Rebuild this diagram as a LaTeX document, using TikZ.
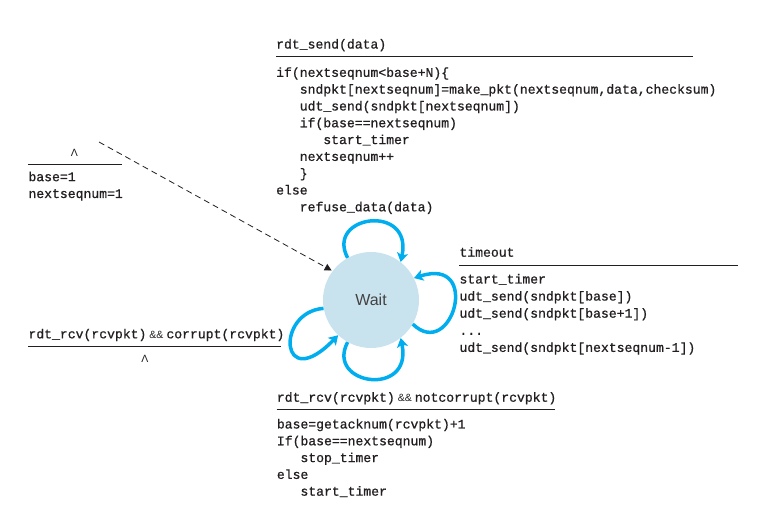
\documentclass[tikz,border=0pt]{standalone}
\usepackage{fontspec}
\setmainfont{Liberation Serif}
\setsansfont{Liberation Sans}
\setmonofont{Liberation Mono}[FakeBold=0.8]
\usetikzlibrary{arrows.meta}
\definecolor{statefill}{HTML}{C9E3EE}
\definecolor{loopcol}{HTML}{00AEEF}
\definecolor{ink}{HTML}{231F20}
\newcommand\ind{\hphantom{000}}
\newcommand\andand{\hspace{3pt}{\sffamily\fontsize{10.5}{12}\selectfont\&\&}\hspace{3pt}}
\begin{document}
\begin{tikzpicture}[x=1pt,y=-1pt,
  codebody/.style={anchor=north west, inner sep=0pt, align=left, text=ink,
    font=\ttfamily\fontsize{13.1}{16.8}\selectfont},
  codehead/.style={anchor=base west, inner sep=0pt, text=ink,
    font=\ttfamily\fontsize{13.1}{16.8}\selectfont},
  lam/.style={anchor=base, inner sep=0pt, text=ink, font=\sffamily\fontsize{10.5}{12}\selectfont},
  rule/.style={draw=ink, line width=0.9pt},
  loop/.style={draw=loopcol, line width=3.5pt, -{Stealth[length=9pt,width=11pt,inset=2pt]}},
  state/.style={circle, fill=statefill, minimum size=96pt, inner sep=0pt, text=ink!85,
    font=\sffamily\fontsize{16}{19}\selectfont}]
\useasboundingbox (0,0) rectangle (781,509);

% state
\node[state] (wait) at (371,300) {Wait};

% initial transition
\node[lam] (initlam) at (74.3,156.7) {Λ};
\draw[rule] (28,164) -- (121.7,164);
\node[codebody] (initact) at (28.3,169.2) {\strut base=1\\nextseqnum=1};
\coordinate (initsrc) at (99,142);
\draw[ink, line width=0.8pt, dash pattern=on 6pt off 4pt, shorten >=1pt,
  -{Triangle[length=7pt,width=7pt]}] (initsrc) -- (wait.143);

% rdt_send
\node[codehead] (sendev) at (276,48.5) {rdt\_send(data)};
\draw[rule] (276,56) -- (693,56);
\node[codebody] (sendact) at (276,64.9) {\strut if(nextseqnum<base+N)\{\\
\ind sndpkt[nextseqnum]=make\_pkt(nextseqnum,data,checksum)\\
\ind udt\_send(sndpkt[nextseqnum])\\
\ind if(base==nextseqnum)\\
\ind\ind start\_timer\\
\ind nextseqnum++\\
\ind \}\\
else\\
\ind refuse\_data(data)};

% timeout
\node[codehead] (toev) at (459.3,256.7) {timeout};
\draw[rule] (459.3,265.7) -- (737.7,265.7);
\node[codebody, font=\ttfamily\fontsize{13.1}{17.1}\selectfont] (toact) at (459.3,271.3) {\strut start\_timer\\
udt\_send(sndpkt[base])\\
udt\_send(sndpkt[base+1])\\
...\\
udt\_send(sndpkt[nextseqnum-1])};

% corrupt
\node[codehead] (corev) at (28.3,338.3) {rdt\_rcv(rcvpkt)\andand corrupt(rcvpkt)};
\draw[rule] (28,346) -- (281,346);
\node[lam] (corlam) at (145,362.3) {Λ};

% notcorrupt
\node[codehead] (ncev) at (276.7,401.7) {rdt\_rcv(rcvpkt)\andand notcorrupt(rcvpkt)};
\draw[rule] (276.7,409.3) -- (555,409.3);
\node[codebody] (ncact) at (276.7,416.5) {\strut base=getacknum(rcvpkt)+1\\
If(base==nextseqnum)\\
\ind stop\_timer\\
else\\
\ind start\_timer};

% self loops
\draw[loop] (wait.119) .. controls (325,215) and (413,203) .. (wait.52);
\draw[loop] (wait.-30) .. controls (452,362) and (482,256) .. (wait.27);
\draw[loop] (wait.-119) .. controls (325,385) and (413,398) .. (wait.-52);
\draw[loop] (wait.190) .. controls (275,312) and (280,395) .. (wait.-133);
\end{tikzpicture}
\end{document}
